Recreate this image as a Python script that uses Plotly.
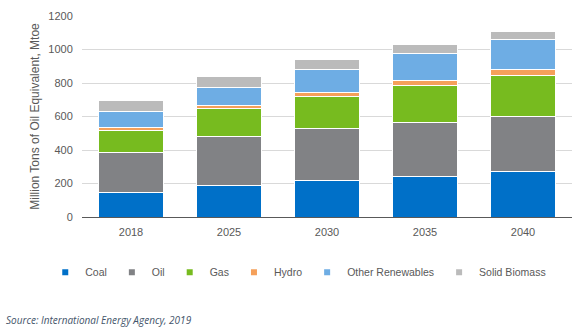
import plotly.graph_objects as go

years = ["2018", "2025", "2030", "2035", "2040"]
coal = [145, 191, 220, 243, 272]
oil = [243, 290, 307, 324, 330]
gas = [131, 165, 195, 218, 243]
hydro = [17, 18, 23, 29, 35]
other_renewables = [95, 112, 133, 162, 180]
solid_biomass = [66, 65, 62, 51, 48]

series = [
    ("Coal", coal, "#0070C8"),
    ("Oil", oil, "#818285"),
    ("Gas", gas, "#77BB1F"),
    ("Hydro", hydro, "#F5A05A"),
    ("Other Renewables", other_renewables, "#6EADE4"),
    ("Solid Biomass", solid_biomass, "#BBBBBB"),
]

fig = go.Figure()
for name, vals, color in series:
    fig.add_trace(go.Bar(
        x=years, y=vals, name=name, showlegend=False, legendgroup=name,
        marker=dict(color=color, line=dict(color="white", width=1)),
    ))
# legend entries (small square swatches as in the reference)
for name, vals, color in series:
    fig.add_trace(go.Scatter(
        x=[None], y=[None], name=name, mode="markers", legendgroup=name,
        marker=dict(symbol="square", size=6, color=color),
    ))

fig.update_layout(
    barmode="stack",
    bargap=0.34,
    width=585, height=327,
    margin=dict(l=82, r=13, t=10, b=110),
    paper_bgcolor="white", plot_bgcolor="white",
    font=dict(family="Liberation Sans, Arial, sans-serif", size=11, color="#595959"),
    xaxis=dict(showline=True, linecolor="#595959", linewidth=1,
               ticks="outside", ticklen=5, tickcolor="rgba(0,0,0,0)",
               tickfont=dict(size=11, color="#595959")),
    yaxis=dict(range=[0, 1200], dtick=200, showgrid=True, gridcolor="#D9D9D9",
               gridwidth=1, zeroline=False,
               ticks="outside", ticklen=6, tickcolor="rgba(0,0,0,0)",
               tickfont=dict(size=11, color="#595959"),
               title=dict(text="Million Tons of Oil Equivalent, Mtoe",
                          font=dict(size=12, color="#595959"), standoff=6)),
    legend=dict(orientation="h", x=-0.075, xanchor="left", y=-0.275, yanchor="middle",
                font=dict(size=10.5, color="#595959"), itemwidth=30,
                traceorder="normal"),
    showlegend=True,
)

fig.add_annotation(
    text="<i>Source: International Energy Agency, 2019</i>",
    xref="paper", yref="paper", x=-0.159, y=-0.51,
    xanchor="left", yanchor="middle", showarrow=False,
    font=dict(family="Open Sans, sans-serif", size=10, color="#44546A"),
)

fig.write_html("out.html")
